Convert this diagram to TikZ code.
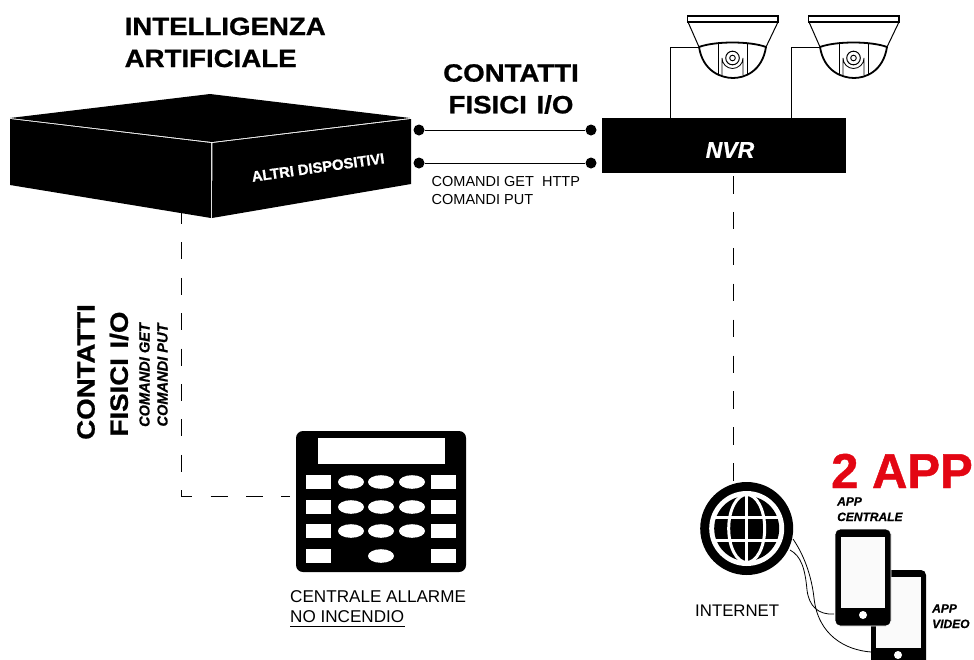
\documentclass[tikz,border=0pt]{standalone}
\usepackage{fontspec}
\setmainfont{Liberation Sans}
\newfontfamily\heavy[FakeBold=0.9,FakeStretch=1.105]{Liberation Sans Bold}
\newfontfamily\heavyplain[FakeBold=0.9]{Liberation Sans Bold}
\newfontfamily\heavyit[FakeBold=0.7]{Liberation Sans Bold Italic}
\usetikzlibrary{calc}
\definecolor{ink}{HTML}{000000}
\definecolor{appred}{HTML}{E30613}
\tikzset{
  wire/.style={draw=ink,line width=0.9pt},
  dashwire/.style={draw=ink,line width=0.9pt,dash pattern=on 17pt off 18.4pt},
  term/.style={circle,fill=ink,minimum size=11pt,inner sep=0pt},
  head/.style={font=\fontsize{25}{30}\heavy,text=ink,align=center,inner sep=0pt},
  small/.style={font=\fontsize{14.5}{17}\selectfont,text=ink,align=left,inner sep=0pt},
  tiny/.style={font=\fontsize{12}{15}\heavyit,text=ink,align=left,inner sep=0pt},
  tinyv/.style={font=\fontsize{14.6}{15}\heavyit,text=ink,align=left,inner sep=0pt},
  keyrect/.style={fill=white,draw=none},
  keyoval/.style={fill=white,draw=none},
}
\newcommand{\camera}[1]{%
\begin{scope}[shift={(#1,0)}]
  \draw[ink,line width=1.2pt] (687.5,16) rectangle (778,22);
  \draw[ink,line width=1pt] (688,22) -- (699,47) (778,22) -- (766,47);
  \draw[ink,line width=1.8pt] (699,47) .. controls (703,72) and (722,78) .. (733,78) .. controls (744,78) and (762,72) .. (766,47);
  \draw[ink,line width=1.8pt] (699,47) .. controls (715,41) and (750,41) .. (766,47);
  \draw[ink,line width=0.9pt] (718,44) -- (718,75) (747,44) -- (747,75);
  \draw[ink,line width=0.8pt] (722,75) -- (722,58) arc[start angle=180,end angle=0,radius=10.5] -- (743,75);
  \draw[ink,line width=1pt] (732.5,58) circle[radius=6.8];
  \draw[ink,line width=0.9pt] (732.5,58) circle[radius=2.8];
\end{scope}}
\begin{document}
\begin{tikzpicture}[x=1pt,y=-1pt]
\useasboundingbox (0,0) rectangle (974,659);
% dashed lines (behind the box)
\coordinate (ltop) at (181,207);
\coordinate (kp) at (290,496);
\draw[dashwire] (ltop) -- (181,496) -- (kp);
\coordinate (nvrb) at (733,176);
\coordinate (netb) at (733,483);
\draw[dashwire,dash pattern=on 17.5pt off 18.4pt] (nvrb) -- (netb);
% labels
\node[head,anchor=base west] (ia1) at (124.5,35) {INTELLIGENZA};
\node[head,anchor=base west] (ia2) at (124.5,67) {ARTIFICIALE};
% box
\fill[ink] (10,118) -- (210,94) -- (410,118) -- (212,142) -- cycle;
\fill[ink] (10,119) -- (211,143) -- (211,218) -- (10,185) -- cycle;
\fill[ink] (212.5,143) -- (411,119) -- (411,184) -- (212,218) -- cycle;
\node[font=\fontsize{14.8}{15}\heavyplain,text=white,rotate=8,inner sep=0pt] (altri) at (318,167.5) {ALTRI DISPOSITIVI};
% nvr
\node[fill=ink,minimum width=244pt,minimum height=55pt,inner sep=0pt,anchor=north west] (nvr) at (602,118) {};
\node[font=\fontsize{23}{26}\heavyit,text=white,inner sep=0pt] (nvrt) at (730,150) {NVR};
% terminals
\node[term] (a1) at (419,130) {};
\node[term] (b1) at (591,130) {};
\node[term] (a2) at (419,163) {};
\node[term] (b2) at (591,163) {};
\draw[wire] (a1) -- (b1);
\draw[wire] (a2) -- (b2);
\node[head] (cf) at (511,73) {CONTATTI};
\node[head] (cf2) at (511,104.5) {FISICI\hspace{2pt} I/O};
\node[small,anchor=base west] (c1) at (431.5,186) {COMANDI GET\ \ HTTP};
\node[small,anchor=base west] (c2) at (431.5,204) {COMANDI PUT};
% cameras
\camera{0}
\camera{121}
\coordinate (cam1) at (699,47);
\coordinate (cam2) at (820,47);
\draw[wire] (cam1) -- (670.5,47) -- (670.5,118);
\draw[wire] (cam2) -- (791.5,47) -- (791.5,118);
% vertical labels
\node[head,rotate=90] (v1) at (86,372) {CONTATTI};
\node[head,rotate=90] (v2) at (119,374) {FISICI\hspace{2pt} I/O};
\node[tinyv,rotate=90] (v3) at (144.5,375) {COMANDI GET};
\node[tinyv,rotate=90] (v4) at (162.5,375) {COMANDI PUT};
% keypad
\fill[ink,rounded corners=7pt] (296,431) rectangle (466,572);
\fill[keyrect] (318,438) rectangle (445,464);
\foreach \y in {475,500,524,549}{
  \fill[keyrect] (306,\y) rectangle ++(25,13.5);
  \fill[keyrect] (431,\y) rectangle ++(25,13.5);
}
\foreach \y in {482,507,531}{
  \foreach \x in {351,381,412}{
    \fill[keyoval] (\x,\y) ellipse[x radius=13,y radius=6.8];
  }
}
\fill[keyoval] (381,556) ellipse[x radius=13,y radius=6.8];
\node[font=\fontsize{17.1}{19}\selectfont,text=ink,inner sep=0pt,anchor=base west] (k1) at (290,602) {CENTRALE ALLARME};
\node[font=\fontsize{17.1}{19}\selectfont,text=ink,inner sep=0pt,anchor=base west] (k2) at (290,622) {NO INCENDIO};
\draw[ink,line width=0.8pt] (290,626) -- (405,626);
% globe
\begin{scope}
\fill[ink] (746.7,528.5) circle[radius=46.5];
\fill[white] (746.7,528.5) circle[radius=37.5];
\fill[ink] (746.7,528.5) circle[radius=32.5];
\begin{scope}
\clip (746.7,528.5) circle[radius=34];
\draw[white,line width=3pt] (746.7,490) -- (746.7,567);
\draw[white,line width=3pt] (706,517) -- (788,517) (706,540) -- (788,540);
\draw[white,line width=3pt] (746.7,528.5) ellipse[x radius=18,y radius=34];
\end{scope}
\end{scope}
\coordinate (g1) at (793,539);
\coordinate (g2) at (790,550);
% phones
\begin{scope}
\clip (0,0) rectangle (974,659);
\fill[ink,rounded corners=5pt] (871,570) rectangle (926,680);
\end{scope}
\fill[white!98!ink] (876,577) rectangle (921,648);
\fill[white] (898,655) circle[radius=4];
\fill[ink,rounded corners=5pt,draw=white,line width=0.8pt] (835,529) rectangle (891,626);
\fill[white!98!ink] (841,537) rectangle (885,608);
\fill[white] (863,615) circle[radius=4];
\coordinate (p1) at (834,614);
\coordinate (p2) at (871,652);
\draw[wire,line width=0.8pt] (g2) .. controls (801,556) and (805,568) .. (807,590) .. controls (809,606) and (818,615) .. (p1);
\draw[wire,line width=0.8pt] (g1) .. controls (806,558) and (812,580) .. (814,598) .. controls (818,635) and (845,650) .. (p2);
\node[font=\fontsize{49}{52}\heavyplain,text=appred,inner sep=0pt,anchor=base west] (app) at (831,488) {2 APP};
\node[tiny,anchor=base west] (a11) at (837,505.5) {APP};
\node[tiny,anchor=base west] (a12) at (837,521) {CENTRALE};
\node[tiny,anchor=base west] (a21) at (932,612.5) {APP};
\node[tiny,anchor=base west] (a22) at (932,628) {VIDEO};
\node[font=\fontsize{16.8}{19}\selectfont,text=ink,inner sep=0pt,anchor=base west] (net) at (695,616) {INTERNET};
\end{tikzpicture}
\end{document}
